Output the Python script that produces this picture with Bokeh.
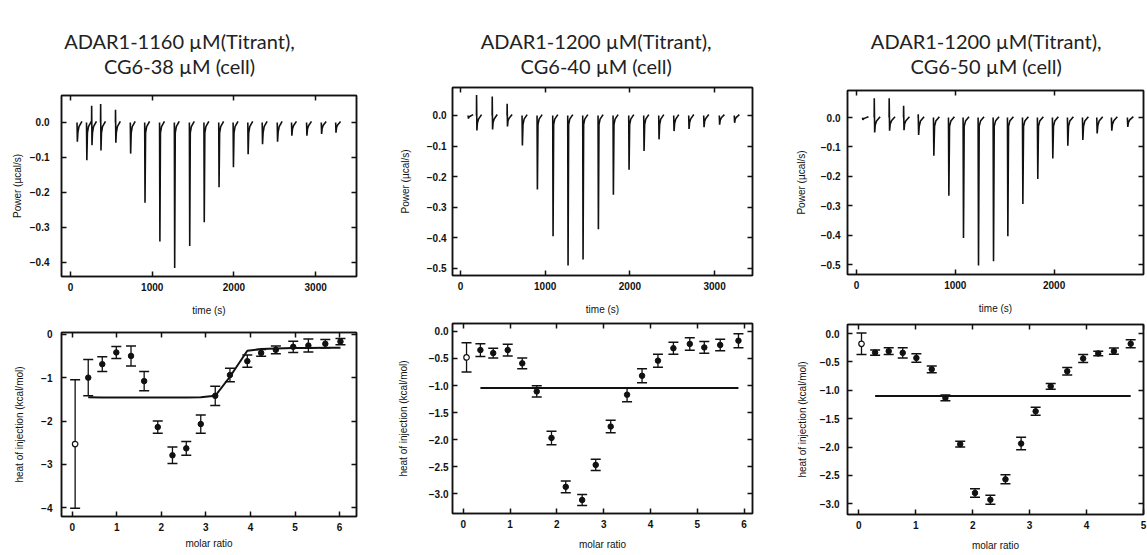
from bokeh.plotting import figure
from bokeh.layouts import row, column
from bokeh.models import (FixedTicker, CustomJSTickFormatter, LinearAxis, Whisker,
                          TeeHead, ColumnDataSource, Range1d)
from bokeh.core.properties import value
from bokeh.embed import file_html
from bokeh.resources import INLINE

# ---------------- titles ----------------
TITLE_LINE1 = ["ADAR1-1160 µM(Titrant),", "ADAR1-1200 µM(Titrant),", "ADAR1-1200 µM(Titrant),"]
TITLE_LINE2 = ["CG6-38 µM (cell)", "CG6-40 µM (cell)", "CG6-50 µM (cell)"]

# ---------------- thermograms (time s, peak low, peak high) ----------------
P1_T = [80, 196, 258, 368, 550, 732, 908, 1090, 1271, 1455, 1633, 1814, 1990, 2170, 2346, 2530, 2705, 2889, 3069, 3245]
P1_LOW = [-0.055, -0.108, -0.065, -0.080, -0.058, -0.089, -0.229, -0.340, -0.416, -0.353,
          -0.285, -0.185, -0.128, -0.091, -0.062, -0.055, -0.038, -0.038, -0.033, -0.029]
P1_HIGH = [0, 0, 0.048, 0.053, 0.036, 0, 0, 0, 0, 0, 0, 0, 0, 0, 0, 0, 0, 0, 0, 0]

P2_T = [90, 189, 374, 550, 727, 904, 1089, 1266, 1443, 1624, 1801, 1986, 2163, 2340, 2517, 2694, 2871, 3055, 3232]
P2_LOW = [-0.010, -0.049, -0.046, -0.036, -0.098, -0.242, -0.395, -0.490, -0.471, -0.372,
          -0.259, -0.177, -0.116, -0.078, -0.051, -0.044, -0.038, -0.030, -0.024]
P2_HIGH = [0, 0.067, 0.062, 0.038, 0, 0, 0, 0, 0, 0, 0, 0, 0, 0, 0, 0, 0, 0, 0]

P3_T = [61, 179, 330, 476, 624, 779, 931, 1079, 1231, 1383, 1528, 1680, 1831, 1983, 2135, 2287, 2432, 2580, 2742]
P3_LOW = [-0.008, -0.051, -0.045, -0.043, -0.059, -0.130, -0.266, -0.410, -0.503, -0.489,
          -0.404, -0.294, -0.209, -0.139, -0.096, -0.076, -0.054, -0.045, -0.032]
P3_HIGH = [0, 0.066, 0.066, 0.040, 0.011, 0, 0, 0, 0, 0, 0, 0, 0, 0, 0, 0, 0, 0, 0]

# ---------------- integrated heats ----------------
P1B_X = [0.066, 0.36, 0.675, 0.99, 1.32, 1.615, 1.92, 2.25, 2.56, 2.885, 3.21, 3.54, 3.93, 4.24, 4.57, 4.96, 5.30, 5.68, 6.02]
P1B_Y = [-2.53, -1.00, -0.69, -0.42, -0.50, -1.08, -2.14, -2.79, -2.63, -2.07, -1.42, -0.94, -0.62, -0.43, -0.36, -0.29, -0.26, -0.22, -0.17]
P1B_ERR = [1.48, 0.42, 0.17, 0.14, 0.23, 0.22, 0.14, 0.19, 0.16, 0.21, 0.22, 0.155, 0.14, 0.08, 0.09, 0.13, 0.15, 0.10, 0.07]
P1B_FIT = [-1.45, -1.46, -1.46, -1.46, -1.46, -1.46, -1.46, -1.46, -1.45, -1.42, -0.98, -0.38,
           -0.34, -0.33, -0.32, -0.32, -0.31, -0.31]

P2B_X = [0.07, 0.366, 0.64, 0.95, 1.26, 1.57, 1.885, 2.19, 2.54, 2.83, 3.15, 3.50, 3.82, 4.16, 4.49, 4.84, 5.15, 5.49, 5.88]
P2B_Y = [-0.48, -0.344, -0.40, -0.344, -0.59, -1.11, -1.97, -2.877, -3.12, -2.47, -1.76, -1.17, -0.82, -0.54, -0.31, -0.23, -0.295, -0.25, -0.17]
P2B_ERR = [0.27, 0.117, 0.09, 0.11, 0.10, 0.105, 0.125, 0.11, 0.10, 0.105, 0.115, 0.13, 0.13, 0.12, 0.11, 0.115, 0.11, 0.105, 0.13]
P2B_FIT_LEVEL = -1.045

P3B_X = [0.046, 0.285, 0.524, 0.77, 1.01, 1.28, 1.52, 1.78, 2.04, 2.31, 2.575, 2.85, 3.105, 3.37, 3.66, 3.94, 4.205, 4.48, 4.775]
P3B_Y = [-0.18, -0.335, -0.31, -0.34, -0.43, -0.63, -1.135, -1.95, -2.81, -2.93, -2.57, -1.94, -1.37, -0.93, -0.665, -0.44, -0.35, -0.31, -0.18]
P3B_ERR = [0.19, 0.045, 0.06, 0.09, 0.075, 0.06, 0.05, 0.05, 0.075, 0.08, 0.08, 0.11, 0.07, 0.05, 0.065, 0.07, 0.04, 0.055, 0.07]
P3B_FIT_LEVEL = -1.10

TOP_X_TICKS = [[0, 1000, 2000, 3000], [0, 1000, 2000, 3000], [0, 1000, 2000]]
TOP_Y_TICKS = [[-0.4, -0.3, -0.2, -0.1, 0.0], [-0.5, -0.4, -0.3, -0.2, -0.1, 0.0], [-0.5, -0.4, -0.3, -0.2, -0.1, 0.0]]
BOT_X_TICKS = [[0, 1, 2, 3, 4, 5, 6], [0, 1, 2, 3, 4, 5, 6], [0, 1, 2, 3, 4, 5]]
BOT_Y_TICKS = [[-4, -3, -2, -1, 0], [-3.0, -2.5, -2.0, -1.5, -1.0, -0.5, 0.0], [-3.0, -2.5, -2.0, -1.5, -1.0, -0.5, 0.0]]

INK = "#111111"
TICK_FONT = "'Liberation Sans', Arial, sans-serif"


def fmt(dec):
    return CustomJSTickFormatter(code="return tick.toFixed(%d).replace('-', '\\u2212');" % dec)


def make_fig(w, h, xr, yr, borders, xticks, yticks, xdec, ydec, xlabel, ylabel,
             ystand, ylabstand, xstand=6, xlabstand=11):
    l, r, t, b = borders
    p = figure(width=w, height=h, x_range=Range1d(*xr), y_range=Range1d(*yr),
               toolbar_location=None, output_backend="svg",
               min_border_left=l, min_border_right=r, min_border_top=t, min_border_bottom=b,
               x_axis_label=xlabel, y_axis_label=ylabel)
    p.grid.visible = False
    p.outline_line_color = INK
    p.outline_line_width = 1.5
    p.xaxis.ticker = FixedTicker(ticks=xticks)
    p.yaxis.ticker = FixedTicker(ticks=yticks)
    p.xaxis.formatter = fmt(xdec)
    p.yaxis.formatter = fmt(ydec)
    for ax in (p.xaxis[0], p.yaxis[0]):
        ax.axis_line_color = INK
        ax.axis_line_width = 1.5
        ax.major_tick_in = 5
        ax.major_tick_out = 0
        ax.major_tick_line_color = INK
        ax.major_tick_line_width = 1.5
        ax.minor_tick_line_color = None
        ax.major_label_text_font = TICK_FONT
        ax.major_label_text_font_size = "10px"
        ax.major_label_text_font_style = "bold"
        ax.major_label_text_color = INK
        ax.axis_label_text_font = TICK_FONT
        ax.axis_label_text_font_size = "10px"
        ax.axis_label_text_font_style = "normal"
        ax.axis_label_text_color = INK
    p.yaxis[0].major_label_standoff = ystand
    p.yaxis[0].axis_label_standoff = ylabstand
    p.xaxis[0].major_label_standoff = xstand
    p.xaxis[0].axis_label_standoff = xlabstand
    for loc, ticks in (("above", xticks), ("right", yticks)):
        ax = LinearAxis(ticker=FixedTicker(ticks=ticks), formatter=CustomJSTickFormatter(code="return '';"),
                        major_tick_in=5, major_tick_out=0, minor_tick_in=0, minor_tick_out=0,
                        major_label_standoff=0, major_label_text_font_size="0px",
                        axis_line_color=INK, axis_line_width=1.5,
                        major_tick_line_color=INK, major_tick_line_width=1.5)
        p.add_layout(ax, loc)
    return p


def thermogram(p, times, lows, highs):
    xs, ys = [], []
    for t, lo, hi in zip(times, lows, highs):
        if hi > 0:
            x = [t, t + 1, t + 5]
            y = [0.0, hi, lo]
        else:
            x = [t, t + 4]
            y = [0.0, lo]
        x += [t + 11, t + 24, t + 60]
        y += [max(lo * 0.5, -0.03), max(lo * 0.25, -0.012), 0.003]
        xs.append(x)
        ys.append(y)
    p.multi_line(xs, ys, line_color=INK, line_width=1.6)


def heats(p, xv, yv, err, fit_x, fit_y):
    p.line(fit_x, fit_y, line_color=INK, line_width=2)
    src = ColumnDataSource(dict(x=xv, upper=[a + e for a, e in zip(yv, err)],
                                lower=[a - e for a, e in zip(yv, err)]))
    wh = Whisker(source=src, base="x", upper="upper", lower="lower", dimension="height",
                 line_color=INK, line_width=1.3,
                 upper_head=TeeHead(size=10, line_color=INK, line_width=1.5),
                 lower_head=TeeHead(size=10, line_color=INK, line_width=1.5))
    p.add_layout(wh)
    p.scatter(xv[1:], yv[1:], size=5.5, marker="circle", fill_color=INK, line_color=INK)
    p.scatter(xv[:1], yv[:1], size=5.5, marker="circle", fill_color="white", line_color=INK, line_width=1.2)


COL_W = [385, 380, 382]
TITLE_H = 84
TOP_H = 234
BOT_H = 237
TITLE_CX = [154, 182, 179]

title_figs = []
for i in range(3):
    tf = figure(width=COL_W[i], height=TITLE_H, x_range=Range1d(0, COL_W[i]), y_range=Range1d(0, TITLE_H),
                toolbar_location=None, output_backend="svg", x_axis_type=None, y_axis_type=None,
                min_border=0)
    tf.grid.visible = False
    tf.outline_line_color = None
    tf.text(x=[TITLE_CX[i], TITLE_CX[i]], y=[44, 19], text=[TITLE_LINE1[i], TITLE_LINE2[i]],
            text_font=value("Lato"), text_font_size="20px", text_align="center",
            text_baseline="middle", text_color="#222222")
    title_figs.append(tf)

# top row (thermograms)
t1 = make_fig(COL_W[0], TOP_H, (-110, 3500), (-0.44, 0.077), (61, 29, 11, 41),
              TOP_X_TICKS[0], TOP_Y_TICKS[0], 0, 1, "time (s)", "Power (µcal/s)", 12, 4)
thermogram(t1, P1_T, P1_LOW, P1_HIGH)
t2 = make_fig(COL_W[1], TOP_H, (-94, 3447), (-0.523, 0.0915), (67, 13, 3, 43),
              TOP_X_TICKS[1], TOP_Y_TICKS[1], 0, 1, "time (s)", "Power (µcal/s)", 6, 13)
thermogram(t2, P2_T, P2_LOW, P2_HIGH)
t3 = make_fig(COL_W[2], TOP_H, (-91, 2905), (-0.534, 0.092), (82, 4, 6, 44),
              TOP_X_TICKS[2], TOP_Y_TICKS[2], 0, 1, "time (s)", "Power (µcal/s)", 7, 11)
thermogram(t3, P3_T, P3_LOW, P3_HIGH)

# bottom row (integrated heats)
b1 = make_fig(COL_W[0], BOT_H, (-0.24, 6.38), (-4.2, 0.04), (57, 28, 14, 39),
              BOT_X_TICKS[0], BOT_Y_TICKS[0], 0, 0, "molar ratio", "heat of injection (kcal/mol)", 9, 13,
              xlabstand=4)
heats(b1, P1B_X, P1B_Y, P1B_ERR, P1B_X[1:], P1B_FIT)
b2 = make_fig(COL_W[1], BOT_H, (-0.23, 6.18), (-3.37, 0.148), (63, 13, 5, 42),
              BOT_X_TICKS[1], BOT_Y_TICKS[1], 0, 1, "molar ratio", "heat of injection (kcal/mol)", 4, 17,
              xlabstand=8)
heats(b2, P2B_X, P2B_Y, P2B_ERR, [P2B_X[1], P2B_X[-1]], [P2B_FIT_LEVEL, P2B_FIT_LEVEL])
b3 = make_fig(COL_W[2], BOT_H, (-0.2, 5.0), (-3.19, 0.16), (78, 2, 6, 41),
              BOT_X_TICKS[2], BOT_Y_TICKS[2], 0, 1, "molar ratio", "heat of injection (kcal/mol)", 8, 9,
              xlabstand=8)
heats(b3, P3B_X, P3B_Y, P3B_ERR, [P3B_X[1], P3B_X[-1]], [P3B_FIT_LEVEL, P3B_FIT_LEVEL])

layout = row(column(title_figs[0], t1, b1), column(title_figs[1], t2, b2), column(title_figs[2], t3, b3))

open("out.html", "w").write(file_html(layout, INLINE))
